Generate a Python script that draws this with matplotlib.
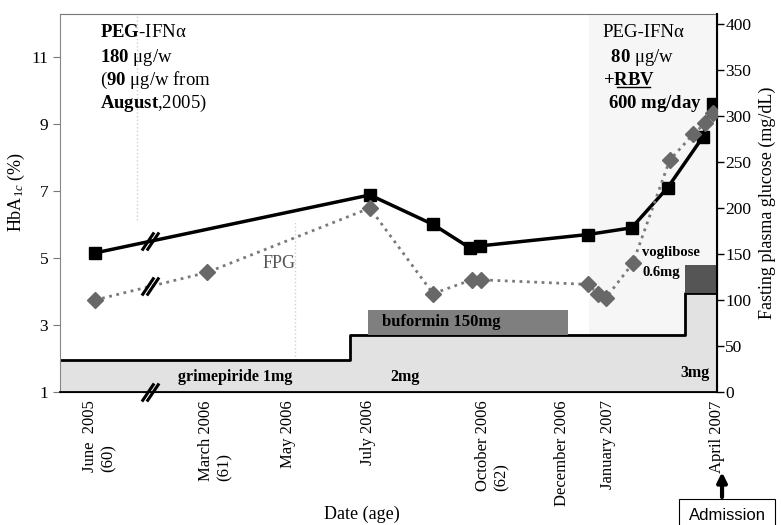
import numpy as np
import matplotlib
matplotlib.use('Agg')
import matplotlib.pyplot as plt
from matplotlib.path import Path

plt.rcParams['font.family'] = ['Liberation Serif', 'DejaVu Serif']
plt.rcParams['mathtext.fontset'] = 'custom'
plt.rcParams['mathtext.rm'] = 'Liberation Serif'
plt.rcParams['mathtext.bf'] = 'Liberation Serif:bold'
plt.rcParams['mathtext.it'] = 'Liberation Serif:italic'

# x = months on the drawn timeline (July 2006 = 0, axis broken before March 2006)
tick_pos = [-6.93, -3.94, -2.06, 0.0, 3.2, 5.0, 6.2, 9.0]
tick_labels = ['June  2005\n(60)', 'March 2006\n(61)', 'May 2006', 'July 2006',
               'October 2006\n(62)', 'December 2006', 'January 2007', 'April 2007']

# HbA1c (%)
hba_x = [-7.04, 0.05, 1.68, 2.63, 2.89, 5.67, 6.80, 7.73, 8.63, 8.89]
hba_y = [5.15, 6.88, 6.0, 5.3, 5.36, 5.7, 5.9, 7.1, 8.6, 9.6]

# fasting plasma glucose (mg/dL)
fpg_x = [-7.04, -4.15, 0.05, 1.68, 2.68, 2.91, 5.67, 5.93, 6.13, 6.83, 7.78, 8.38, 8.69, 8.89]
fpg_y = [100, 130, 200, 107, 122, 122, 117, 107, 102, 140, 252, 280, 292, 303]

# drug bars (in HbA1c units)
x_min, x_max = -7.94, 9.0
grim_x = [x_min, -0.46, 8.17, x_max]
grim_y = [1.95, 2.7, 3.96, 3.96]
bufo_x = [0.0, 5.15]
bufo_y = [2.7, 3.45]
vogl_x = [8.17, x_max]
vogl_y = [3.96, 4.79]
rbv_start = 5.7
x_break = -5.62

fig = plt.figure(figsize=(7.81, 5.25), dpi=100)
ax = fig.add_axes([0.0768, 0.2533, 0.8412, 0.72])
ax2 = ax.twinx()

ax.set_xlim(x_min, x_max)
ax.set_ylim(1, 12.28)
ax2.set_ylim(0, 411)

# faint shading for PEG-IFN + RBV period
ax.axvspan(rbv_start, x_max, color='#f6f6f6', zorder=0, lw=0)
# faint scan lines
ax.axvline(-5.95, ymin=0.455, ymax=1, color='#d0d0d0', ls=':', lw=1, zorder=0)
ax.axvline(-1.88, ymin=0.085, ymax=0.455, color='#d0d0d0', ls=':', lw=1, zorder=0)

# drug bars
ax.fill_between(grim_x, 1, grim_y, step='post', color='#e2e2e2', lw=0, zorder=1)
ax.step(grim_x, grim_y, where='post', color='black', lw=2, zorder=2)
ax.fill_between(bufo_x, bufo_y[0], bufo_y[1], color='#7f7f7f', lw=0, zorder=2)
ax.fill_between(vogl_x, vogl_y[0], vogl_y[1], color='#555555', lw=0, zorder=2)

# HbA1c line
ax.plot(hba_x, hba_y, color='black', lw=2.5, marker='s', markersize=9,
        markerfacecolor='black', zorder=5)

# FPG line
ax2.plot(fpg_x, fpg_y, color='#7a7a7a', lw=2, ls=':', marker='D', markersize=8.5,
         markerfacecolor='#686868', markeredgecolor='#686868', zorder=4)

# break marks
brk = Path([(-0.95, -1), (0.4, 1), (-0.4, -1), (0.95, 1)],
           [Path.MOVETO, Path.LINETO, Path.MOVETO, Path.LINETO])
ax.plot([x_break], [np.interp(x_break, hba_x[:2], hba_y[:2])], marker=brk,
        markersize=13, mew=2.2, mec='black', ls='none', zorder=6, clip_on=False)
ax.plot([x_break], [1], marker=brk, markersize=13, mew=2.2, mec='black',
        ls='none', zorder=6, clip_on=False)
ax2.plot([x_break], [np.interp(x_break, fpg_x[:2], fpg_y[:2])], marker=brk,
         markersize=13, mew=2.2, mec='black', ls='none', zorder=6)

# axes styling
ax.set_xticks(tick_pos)
ax.set_xticklabels(tick_labels, rotation=90, multialignment='left', fontsize=12)
ax.tick_params(axis='x', length=0, pad=6)
ax.set_yticks([1, 3, 5, 7, 9, 11])
ax.tick_params(axis='y', direction='out', length=5, color='#777777', labelsize=12.5)
ax2.set_yticks(range(0, 401, 50))
ax2.tick_params(axis='y', direction='out', length=5, width=1, labelsize=12.5, pad=1)
ax.spines['left'].set_color('#888888')
ax.spines['left'].set_linewidth(0.8)
ax.spines['top'].set_color('#777777')
ax.spines['top'].set_linewidth(0.8)
ax2.spines['top'].set_visible(False)
ax2.spines['left'].set_visible(False)
ax2.spines['right'].set_linewidth(1.5)
ax2.spines['bottom'].set_linewidth(1.3)

ax.set_ylabel('HbA$_{1c}$ (%)', fontsize=13)
ax.yaxis.set_label_coords(-0.050, 0.53)
ax2.set_ylabel('Fasting plasma glucose (mg/dL)', fontsize=13)
ax2.yaxis.set_label_coords(1.064, 0.5)
ax.set_xlabel('Date (age)', fontsize=13)
ax.xaxis.set_label_coords(0.46, -0.30)

# annotations
left_lines = [r'$\mathbf{PEG}$-IFNα', r'$\mathbf{180}$ μg/w', r'($\mathbf{90}$ μg/w from',
              r'$\mathbf{August}$,2005)']
right_lines = ['PEG-IFNα', r' $\mathbf{80}$ μg/w', r'$\mathbf{+RBV}$', r'$\mathbf{600\ mg/day}$']
line_y = [0.950, 0.886, 0.825, 0.764]
for s, yy in zip(left_lines, line_y):
    ax.text(0.061, yy, s, transform=ax.transAxes, fontsize=13.5, va='center', ha='left', zorder=7)
for s, yy, xx in zip(right_lines, line_y, [0.826, 0.831, 0.826, 0.834]):
    ax.text(xx, yy, s, transform=ax.transAxes, fontsize=13.5, va='center', ha='left', zorder=7)
ax.plot([0.848, 0.898], [0.806, 0.806], transform=ax.transAxes, color='black', lw=1)

ax.text(0.333, 0.341, 'FPG', transform=ax.transAxes, fontsize=13, color='#555555',
        ha='center', va='center')
ax.text(0.266, 0.040, 'grimepiride 1mg', transform=ax.transAxes, fontsize=11.5,
        fontweight='bold', ha='center', va='center', zorder=7)
ax.text(0.525, 0.040, '2mg', transform=ax.transAxes, fontsize=11.5,
        fontweight='bold', ha='center', va='center', zorder=7)
ax.text(0.966, 0.050, '3mg', transform=ax.transAxes, fontsize=11.5,
        fontweight='bold', ha='center', va='center', zorder=7)
ax.text(0.580, 0.185, 'buformin 150mg', transform=ax.transAxes, fontsize=12,
        fontweight='bold', ha='center', va='center', zorder=7)
ax.text(0.886, 0.370, 'voglibose', transform=ax.transAxes, fontsize=10.5,
        fontweight='bold', ha='left', va='center', zorder=7)
ax.text(0.886, 0.317, '0.6mg', transform=ax.transAxes, fontsize=10.5,
        fontweight='bold', ha='left', va='center', zorder=7)

fig.text(0.931, 0.018, 'Admission', family='Liberation Sans', fontsize=12,
         ha='center', va='center',
         bbox=dict(boxstyle='square,pad=0.55', fc='white', ec='black', lw=0.8))
ax.annotate('', xy=(0.9245, 0.106), xytext=(0.9245, 0.048), xycoords='figure fraction',
            textcoords='figure fraction',
            arrowprops=dict(arrowstyle='-|>', lw=3, color='black', mutation_scale=14))

fig.savefig('out.png', dpi=100)
